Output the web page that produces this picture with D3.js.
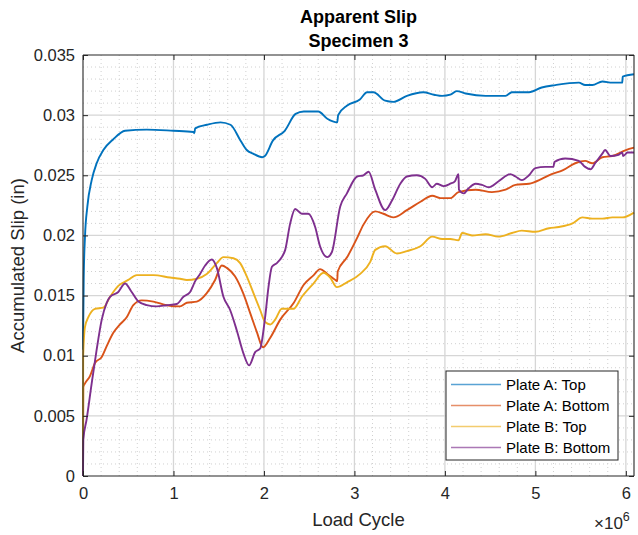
<!DOCTYPE html>
<html>
<head>
<meta charset="utf-8">
<script src="https://cdn.jsdelivr.net/npm/d3@7"></script>
<style>
  body { margin: 0; background: #fff; }
  svg { font-family: "Liberation Sans", Arial, Helvetica, sans-serif; }
</style>
</head>
<body>
<div id="chart"></div>
<script>
// load cycle in units of 1e6, slip in inches
var plateATop = [[0,0.0105],[0.008,0.0165],[0.022,0.0199],[0.048,0.0224],[0.096,0.0246],[0.151,0.0260],[0.225,0.0271],[0.335,0.0280],[0.465,0.0287],[0.705,0.0288],[1.0,0.0287],[1.22,0.0286],[1.23,0.0285],[1.24,0.0289],[1.37,0.0292],[1.52,0.0294],[1.63,0.0292],[1.74,0.0279],[1.81,0.0271],[1.88,0.0268],[1.98,0.0265],[2.01,0.0266],[2.10,0.0279],[2.23,0.0287],[2.35,0.0301],[2.44,0.0303],[2.60,0.0303],[2.70,0.0297],[2.81,0.0294],[2.82,0.0300],[2.92,0.0308],[3.06,0.0313],[3.14,0.0319],[3.21,0.0319],[3.34,0.0312],[3.43,0.0311],[3.58,0.0316],[3.76,0.0319],[3.88,0.0317],[3.97,0.0316],[4.06,0.0317],[4.13,0.0320],[4.23,0.0318],[4.45,0.0316],[4.67,0.0316],[4.74,0.0319],[4.93,0.0319],[5.07,0.0323],[5.22,0.0325],[5.48,0.0327],[5.55,0.0325],[5.63,0.0325],[5.74,0.0328],[5.85,0.0327],[5.96,0.0327],[5.965,0.0332],[6.09,0.0334]];

var plateABottom = [[0,0],[0.003,0.0074],[0.022,0.0077],[0.077,0.0083],[0.133,0.0094],[0.207,0.0099],[0.262,0.0108],[0.335,0.0119],[0.409,0.0126],[0.483,0.0132],[0.556,0.0142],[0.649,0.0146],[0.778,0.0145],[0.926,0.0142],[1.073,0.0141],[1.147,0.0144],[1.258,0.0145],[1.368,0.0152],[1.46,0.0163],[1.534,0.0175],[1.59,0.0173],[1.68,0.0166],[1.77,0.0152],[1.85,0.0135],[1.92,0.0120],[1.99,0.0107],[2.07,0.0115],[2.18,0.0130],[2.33,0.0144],[2.44,0.0159],[2.55,0.0167],[2.62,0.0172],[2.70,0.0168],[2.79,0.0163],[2.81,0.0162],[2.815,0.0170],[2.92,0.0182],[3.03,0.0198],[3.10,0.0209],[3.23,0.0220],[3.32,0.0218],[3.43,0.0215],[3.58,0.0221],[3.73,0.0228],[3.86,0.0233],[3.95,0.0231],[4.06,0.0231],[4.15,0.0236],[4.34,0.0238],[4.52,0.0236],[4.67,0.0238],[4.78,0.0242],[4.93,0.0243],[5.07,0.0247],[5.18,0.0251],[5.30,0.0254],[5.44,0.0260],[5.55,0.0262],[5.63,0.0260],[5.74,0.0265],[5.85,0.0266],[6.00,0.0271],[6.09,0.0273]];

var plateBTop = [[0,0],[0.002,0.0100],[0.022,0.0124],[0.059,0.0132],[0.133,0.0139],[0.225,0.0140],[0.299,0.0149],[0.39,0.0158],[0.50,0.0163],[0.594,0.0167],[0.778,0.0167],[0.962,0.0165],[1.073,0.0164],[1.147,0.0163],[1.258,0.0164],[1.368,0.0168],[1.479,0.0177],[1.552,0.0182],[1.663,0.0181],[1.737,0.0177],[1.81,0.0166],[1.884,0.0152],[1.958,0.0138],[2.013,0.0128],[2.07,0.0126],[2.124,0.0130],[2.198,0.0139],[2.253,0.0139],[2.326,0.0139],[2.419,0.0149],[2.547,0.0160],[2.658,0.0169],[2.732,0.0165],[2.806,0.0157],[2.917,0.0161],[3.064,0.0168],[3.175,0.0178],[3.23,0.0188],[3.34,0.0191],[3.47,0.0185],[3.58,0.0187],[3.73,0.0191],[3.86,0.0199],[3.97,0.0197],[4.06,0.0197],[4.15,0.0196],[4.19,0.0202],[4.30,0.0200],[4.45,0.0201],[4.59,0.0199],[4.74,0.0202],[4.85,0.0204],[5.0,0.0203],[5.15,0.0206],[5.26,0.0207],[5.41,0.0210],[5.52,0.0215],[5.63,0.0214],[5.74,0.0214],[5.85,0.0215],[5.96,0.0215],[6.09,0.0219]];

var plateBBottom = [[0,0],[0.003,0.0030],[0.04,0.0047],[0.096,0.0077],[0.151,0.0105],[0.207,0.0130],[0.262,0.0144],[0.299,0.0149],[0.39,0.0153],[0.465,0.0160],[0.538,0.0153],[0.612,0.0145],[0.705,0.0142],[0.815,0.0141],[0.926,0.0142],[1.036,0.0143],[1.11,0.0149],[1.184,0.0153],[1.24,0.0162],[1.294,0.0168],[1.35,0.0175],[1.424,0.0180],[1.479,0.0173],[1.552,0.0149],[1.626,0.0138],[1.70,0.0121],[1.773,0.0102],[1.836,0.0092],[1.903,0.0103],[1.958,0.0106],[2.013,0.0132],[2.05,0.0157],[2.088,0.0174],[2.143,0.0177],[2.198,0.0182],[2.235,0.0188],[2.29,0.0210],[2.345,0.0222],[2.419,0.0218],[2.49,0.0218],[2.566,0.0207],[2.62,0.0191],[2.70,0.0182],[2.75,0.0186],[2.843,0.0224],[2.917,0.0235],[3.03,0.0249],[3.10,0.0250],[3.157,0.0253],[3.23,0.0238],[3.34,0.0221],[3.415,0.0229],[3.507,0.0243],[3.58,0.0249],[3.69,0.0250],[3.783,0.0247],[3.86,0.0240],[3.91,0.0243],[3.985,0.0241],[4.06,0.0243],[4.11,0.0245],[4.15,0.0251],[4.155,0.0238],[4.21,0.0235],[4.26,0.0239],[4.34,0.0243],[4.41,0.0242],[4.483,0.0240],[4.594,0.0245],[4.723,0.0251],[4.78,0.0249],[4.85,0.0246],[4.93,0.0250],[5.0,0.0256],[5.11,0.0257],[5.20,0.0257],[5.21,0.0261],[5.33,0.0264],[5.48,0.0262],[5.55,0.0257],[5.61,0.0255],[5.66,0.0260],[5.74,0.0268],[5.77,0.0271],[5.83,0.0266],[5.92,0.0267],[5.96,0.0269],[5.97,0.0266],[6.02,0.0269],[6.09,0.0269]];

var seriesNames = ['Plate A: Top', 'Plate A: Bottom', 'Plate B: Top', 'Plate B: Bottom'];
var seriesColors = ['#0072BD', '#D95319', '#EDB120', '#7E2F8E'];
var xTicks = [0, 1, 2, 3, 4, 5, 6];
var yTicks = [0, 0.005, 0.01, 0.015, 0.02, 0.025, 0.03, 0.035];

var width = 638, height = 535;
var plotL = 83, plotT = 55, plotR = 634, plotB = 476;

var x = d3.scaleLinear().domain([0, 6.09]).range([plotL, plotR]);
var y = d3.scaleLinear().domain([0, 0.035]).range([plotB, plotT]);

var svg = d3.select('#chart').append('svg')
  .attr('width', width)
  .attr('height', height);

// minor grid
var xMinor = d3.range(0.2, 6.09, 0.2).filter(function(v) { return Math.abs(v - Math.round(v)) > 0.01; });
var yMinor = d3.range(0.001, 0.035, 0.001).filter(function(v) { return Math.abs(v / 0.005 - Math.round(v / 0.005)) > 0.01; });

svg.append('g').selectAll('line').data(xMinor).enter().append('line')
  .attr('x1', function(d) { return x(d); }).attr('x2', function(d) { return x(d); })
  .attr('y1', plotT).attr('y2', plotB)
  .attr('stroke', '#d0d0d0').attr('stroke-width', 1).attr('stroke-dasharray', '1,3');
svg.append('g').selectAll('line').data(yMinor).enter().append('line')
  .attr('x1', plotL).attr('x2', plotR)
  .attr('y1', function(d) { return y(d); }).attr('y2', function(d) { return y(d); })
  .attr('stroke', '#d0d0d0').attr('stroke-width', 1).attr('stroke-dasharray', '1,3');

// major grid
svg.append('g').selectAll('line').data(xTicks.slice(1)).enter().append('line')
  .attr('x1', function(d) { return x(d); }).attr('x2', function(d) { return x(d); })
  .attr('y1', plotT).attr('y2', plotB)
  .attr('stroke', '#d6d6d6').attr('stroke-width', 1.3);
svg.append('g').selectAll('line').data(yTicks.slice(1, -1)).enter().append('line')
  .attr('x1', plotL).attr('x2', plotR)
  .attr('y1', function(d) { return y(d); }).attr('y2', function(d) { return y(d); })
  .attr('stroke', '#d6d6d6').attr('stroke-width', 1.3);

// lines
var line = d3.line()
  .curve(d3.curveMonotoneX)
  .x(function(d) { return x(d[0]); })
  .y(function(d) { return y(d[1]); });

var allSeries = [plateATop, plateABottom, plateBTop, plateBBottom];

svg.append('g').selectAll('path').data(allSeries).enter().append('path')
  .attr('d', line)
  .attr('fill', 'none')
  .attr('stroke', function(d, i) { return seriesColors[i]; })
  .attr('stroke-width', 1.9)
  .attr('stroke-linejoin', 'round');

// axes
var xAxis = d3.axisBottom(x).tickValues(xTicks).tickSize(-5).tickPadding(11)
  .tickFormat(d3.format('d'));
var yAxis = d3.axisLeft(y).tickValues(yTicks).tickSize(-5).tickPadding(8)
  .tickFormat(function(d) { return d === 0 ? '0' : String(+d.toFixed(3)); });

var gx = svg.append('g').attr('transform', 'translate(0,' + plotB + ')').call(xAxis);
var gy = svg.append('g').attr('transform', 'translate(' + plotL + ',0)').call(yAxis);
var gxTop = svg.append('g').attr('transform', 'translate(0,' + plotT + ')')
  .call(d3.axisTop(x).tickValues(xTicks).tickSize(-5).tickFormat(''));
var gyRight = svg.append('g').attr('transform', 'translate(' + plotR + ',0)')
  .call(d3.axisRight(y).tickValues(yTicks).tickSize(-5).tickFormat(''));

[gx, gy, gxTop, gyRight].forEach(function(g) {
  g.select('.domain').attr('stroke', '#262626').attr('stroke-width', 1.1);
  g.selectAll('.tick line').attr('stroke', '#262626');
  g.selectAll('.tick text').attr('fill', '#262626').style('font-size', '16.5px')
    .style('font-family', '"Liberation Sans", Arial, Helvetica, sans-serif');
});
gx.selectAll('.domain').attr('d', 'M' + plotL + ',0H' + plotR);
gxTop.selectAll('.domain').attr('d', 'M' + plotL + ',0H' + plotR);
gy.selectAll('.domain').attr('d', 'M0,' + plotT + 'V' + plotB);
gyRight.selectAll('.domain').attr('d', 'M0,' + plotT + 'V' + plotB);

// titles
svg.append('text').attr('x', (plotL + plotR) / 2).attr('y', 23)
  .attr('text-anchor', 'middle').style('font-size', '18px').style('font-weight', 'bold')
  .attr('fill', '#000').text('Apparent Slip');
svg.append('text').attr('x', (plotL + plotR) / 2).attr('y', 47)
  .attr('text-anchor', 'middle').style('font-size', '18px').style('font-weight', 'bold')
  .attr('fill', '#000').text('Specimen 3');

svg.append('text').attr('x', (plotL + plotR) / 2).attr('y', 526)
  .attr('text-anchor', 'middle').style('font-size', '18.5px').attr('fill', '#262626')
  .text('Load Cycle');

svg.append('text').attr('transform', 'translate(24,' + ((plotT + plotB) / 2) + ') rotate(-90)')
  .attr('text-anchor', 'middle').style('font-size', '18.5px').attr('fill', '#262626')
  .text('Accumulated Slip (in)');

var expo = svg.append('text').attr('x', 594).attr('y', 529)
  .style('font-size', '17px').attr('fill', '#262626');
expo.append('tspan').text('\u00d710');
expo.append('tspan').attr('dy', -8).style('font-size', '12.5px').text('6');

// legend
var legX = 446, legY = 371, legW = 172, legH = 89;
var legend = svg.append('g');
legend.append('rect').attr('x', legX).attr('y', legY).attr('width', legW).attr('height', legH)
  .attr('fill', '#fff').attr('stroke', '#262626').attr('stroke-width', 1);

var items = legend.selectAll('.legend').data(seriesNames).enter().append('g')
  .attr('class', 'legend')
  .attr('transform', function(d, i) { return 'translate(' + legX + ',' + (legY + 13.5 + i * 21) + ')'; });
items.append('line').attr('x1', 5).attr('x2', 55).attr('y1', 0).attr('y2', 0)
  .attr('stroke', function(d, i) { return seriesColors[i]; })
  .attr('stroke-width', 1.6).attr('stroke-opacity', 0.65);
items.append('text').attr('x', 60).attr('y', 5.5)
  .style('font-size', '15px').attr('fill', '#000')
  .text(function(d) { return d; });
</script>
</body>
</html>
